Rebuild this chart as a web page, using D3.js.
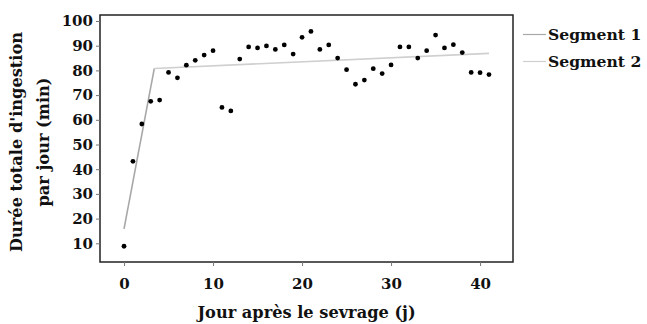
<!DOCTYPE html>
<html><head><meta charset="utf-8">
<script src="https://cdn.jsdelivr.net/npm/d3@7"></script>
<style>body{margin:0;background:#fff}svg{display:block}text{font-family:"DejaVu Serif",serif;font-weight:bold;fill:#111}</style>
</head><body><svg id="c" width="647" height="324"></svg>
<script>
const days = d3.range(0, 42);
const intake = [8.8,43.2,58.3,67.5,68.0,79.2,77.0,82.1,84.1,86.2,88.0,65.0,63.6,84.6,89.5,89.1,89.9,88.5,90.3,86.6,93.4,95.8,88.5,90.3,85.0,80.3,74.4,76.1,80.7,78.7,82.2,89.5,89.5,85.0,88.0,94.3,89.1,90.4,87.2,79.2,79.1,78.3];
const seg1 = [[0,15.8],[3.4,80.8]];
const seg2 = [[3.4,80.8],[41,86.9]];
const segNames = ["Segment 1","Segment 2"];
const segColors = ["#a8a8a8","#cfcfcf"];
const xTicks = [0,10,20,30,40];
const yTicks = [10,20,30,40,50,60,70,80,90,100];

const L=100,R=513,T=15,B=262;
const x = d3.scaleLinear().domain([-2.7,43.7]).range([L,R]);
const y = d3.scaleLinear().domain([2.43,102.43]).range([B,T]);
const svg = d3.select("#c");

const line = d3.line().x(d=>x(d[0])).y(d=>y(d[1]));
[seg1,seg2].forEach((s,i)=>svg.append("path").attr("d",line(s)).attr("fill","none").attr("stroke",segColors[i]).attr("stroke-width",1.6));

svg.append("g").selectAll("circle").data(days).join("circle")
  .attr("cx",d=>x(d)).attr("cy",(d,i)=>y(intake[i])).attr("r",2.4).attr("fill","#000");

svg.append("rect").attr("x",L).attr("y",T).attr("width",R-L).attr("height",B-T)
  .attr("fill","none").attr("stroke","#222").attr("stroke-width",1.5);

const xa = svg.append("g").attr("transform",`translate(0,${B})`)
  .call(d3.axisBottom(x).tickValues(xTicks).tickSize(4).tickPadding(12).tickFormat(d3.format("d")));
const ya = svg.append("g").attr("transform",`translate(${L},0)`)
  .call(d3.axisLeft(y).tickValues(yTicks).tickSize(4).tickPadding(3).tickFormat(d3.format("d")));
[xa,ya].forEach(a=>{a.select(".domain").remove();a.selectAll("line").attr("stroke","#777");
  a.selectAll("text").attr("font-family","DejaVu Serif").attr("font-weight","bold").attr("font-size",15).attr("fill","#111");});

svg.append("text").attr("x",(L+R)/2).attr("y",318).attr("text-anchor","middle").attr("font-size",16.2).text("Jour après le sevrage (j)");
const yl = svg.append("text").attr("transform","translate(22,142) rotate(-90)").attr("text-anchor","middle").attr("font-size",16.2);
yl.append("tspan").attr("x",0).attr("y",0).text("Durée totale d'ingestion");
yl.append("tspan").attr("x",0).attr("y",27).text("par jour (min)");

const lg = svg.append("g").selectAll("g").data(segNames).join("g").attr("transform",(d,i)=>`translate(523,${34.5+i*27})`);
lg.append("line").attr("x1",0).attr("x2",23).attr("stroke",(d,i)=>segColors[i]).attr("stroke-width",1.2);
lg.append("text").attr("x",25).attr("y",5.5).attr("font-size",15.6).text(d=>d);
</script></body></html>
